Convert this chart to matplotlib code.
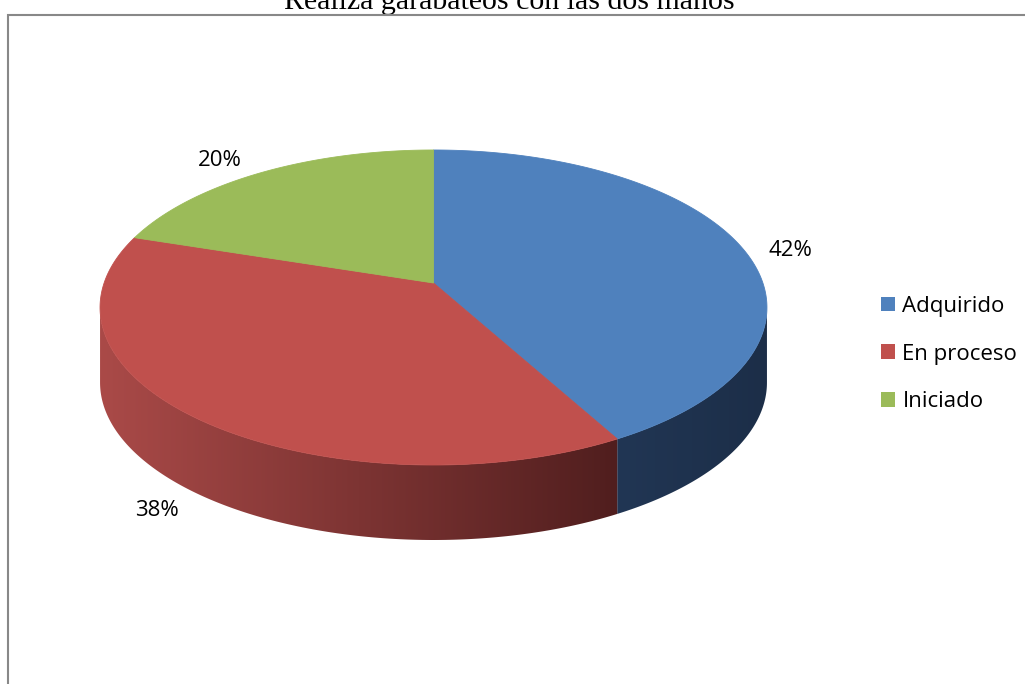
import numpy as np
import matplotlib.pyplot as plt
from matplotlib.patches import Polygon, Patch
from matplotlib.lines import Line2D

# Data
categories = ['Adquirido', 'En proceso', 'Iniciado']
percentages = [42, 38, 20]
pct_labels = ['42%', '38%', '20%']
top_colors = ['#4F81BD', '#C0504D', '#9BBB59']
title = 'Realiza garabateos con las dos manos'

# layout of the 3D pie (pixel space)
cx, cy = 433.5, 283.0      # projected centre of the pie
A, B = 329.4, 153.7        # horizontal / vertical scale
k = 0.1555                 # perspective factor
depth = 75.0
label_pos = [(790, 251), (157, 511), (220, 160)]


def proj(phi_deg):
    phi = np.radians(phi_deg)
    u, v = np.sin(phi), np.cos(phi)
    w = 1 + k * v
    return cx + A * u / w, cy - B * v / w


fig = plt.figure(figsize=(10.25, 6.84), dpi=100)
ax = fig.add_axes([0, 0, 1, 1])
ax.set_xlim(0, 1025)
ax.set_ylim(684, 0)
ax.axis('off')

fracs = np.array(percentages) / sum(percentages)
ends = np.cumsum(fracs) * 360
starts = ends - fracs * 360

# visible part of the side wall
phi_l = 90 + np.degrees(np.arcsin(k))
phi_r = 270 - np.degrees(np.arcsin(k))

side_grad = {
    0: [(33, 54, 84), (28, 46, 72)],
    1: [(170, 74, 72), (80, 30, 30)],
    2: [(120, 150, 70), (90, 110, 50)],
}

for i, (a0, a1) in enumerate(zip(starts, ends)):
    s, e = max(a0, phi_l), min(a1, phi_r)
    if s >= e:
        continue
    t = np.linspace(s, e, 200)
    xs, ys = proj(t)
    pts = np.vstack([np.column_stack([xs, ys]),
                     np.column_stack([xs[::-1], ys[::-1] + depth])])
    poly = Polygon(pts, closed=True, facecolor='none', edgecolor='none')
    ax.add_patch(poly)
    c0, c1 = np.array(side_grad[i][0]) / 255, np.array(side_grad[i][1]) / 255
    n = 256
    grad = np.linspace(0, 1, n)[:, None] * (c1 - c0) + c0
    img = grad[None, :, :]
    im = ax.imshow(img, extent=[xs.min(), xs.max(), ys.max() + depth, ys.min()],
                   aspect='auto', interpolation='bilinear', zorder=1)
    im.set_clip_path(poly)

# top surface
for i, (a0, a1) in enumerate(zip(starts, ends)):
    t = np.linspace(a0, a1, 300)
    xs, ys = proj(t)
    pts = np.vstack([[cx, cy], np.column_stack([xs, ys])])
    ax.add_patch(Polygon(pts, closed=True, facecolor=top_colors[i],
                         edgecolor=top_colors[i], lw=0.6, zorder=2))

# percentage labels
for (lx, ly), lab in zip(label_pos, pct_labels):
    ax.text(lx, ly, lab, ha='center', va='center', fontsize=16,
            family='Open Sans', color='black', zorder=3)

# legend
handles = [Patch(facecolor=c, edgecolor='none') for c in top_colors]
ax.legend(handles, categories, loc='center left', bbox_to_anchor=(870, 354),
          bbox_transform=ax.transData, frameon=False, borderpad=0,
          prop={'family': 'Open Sans', 'size': 16},
          handlelength=0.63, handleheight=0.63, handletextpad=0.33,
          labelspacing=1.2)

# chart border (top and left visible)
ax.add_line(Line2D([8, 8, 1030], [700, 15, 15], color='#888888', lw=1.5,
                   solid_joinstyle='miter', zorder=5, clip_on=False))

# title, partly cut at the top of the image as in the source
ax.text(509, 9, title, ha='center', va='baseline', fontsize=21.5,
        family='Liberation Serif', color='black', clip_on=False)

fig.savefig('out.png', dpi=100)
